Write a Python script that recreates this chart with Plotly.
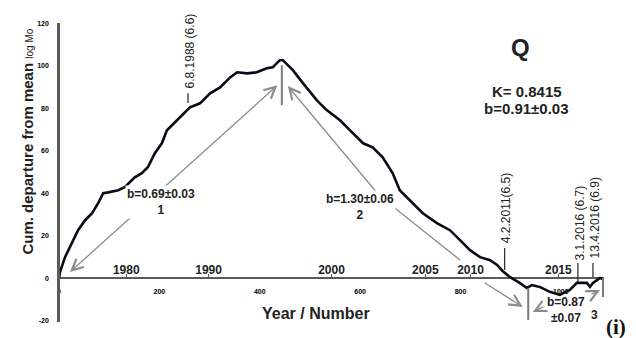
import plotly.graph_objects as go

# ---------------- data ----------------
x_number = [0, 2, 12, 26, 38, 52, 66, 78, 88, 98,
            118, 131, 151, 165, 177, 191, 205, 215, 235, 247,
            261, 281, 301, 321, 341, 355, 375, 394, 414, 426,
            440, 446, 466, 486, 514, 534, 560, 580, 606, 625,
            645, 665, 679, 705, 725, 753, 779, 799, 819, 839,
            859, 873, 884, 898, 918, 932, 942, 958, 978, 998,
            1018, 1032, 1052, 1058, 1064, 1072, 1078, 1084]
y_cum = [0.2, 3.0, 10.0, 16.6, 22.7, 27.4, 30.7, 35.4, 40.1, 40.5,
         41.5, 42.9, 47.6, 49.5, 52.3, 58.9, 63.6, 69.7, 74.4, 77.7,
         80.5, 82.4, 87.1, 89.9, 94.6, 97.0, 96.5, 97.0, 98.9, 99.4,
         102.7, 102.7, 98.0, 91.9, 83.8, 79.1, 74.4, 69.7, 63.6, 61.7,
         57.0, 49.5, 41.5, 35.4, 30.7, 26.0, 22.7, 18.0, 13.3, 10.0,
         8.6, 6.3, 3.5, 0.7, -2.1, -4.5, -3.1, -4.0, -6.3, -7.7,
         -5.4, -2.1, -2.1, -4.0, -2.1, -0.8, 0.2, -0.3]

y_ticks = [-20, 0, 20, 40, 60, 80, 100, 120]
x_ticks = [0, 200, 400, 600, 800, 1000]
year_labels = ["1980", "1990", "2000", "2005", "2010", "2015"]
year_pos = [134, 298, 543, 730, 820, 995]

event_labels = ["6.8.1988 (6.6)", "4.2.2011(6.5)", "3.1.2016 (6.7)", "13.4.2016 (6.9)"]
event_x = [257, 888, 1034, 1064]
event_y0 = [82.5, 4.0, -1.7, 0.7]
event_y1 = [87.2, 14.3, 7.3, 7.3]

seg_labels = ["b=0.69±0.03", "b=1.30±0.06", "b=0.87"]
seg_numbers = ["1", "2", "3"]
bracket_x = [444, 935, 1084]
bracket_y0 = [100.3, -4.5, 0.2]
bracket_y1 = [81.5, -19.5, -8.7]

FONT = "Liberation Sans, Arial, sans-serif"
DARK = "#222222"
GREY = "#8c8c8c"

fig = go.Figure()

# event marker ticks
ex, ey = [], []
for x, a, b in zip(event_x, event_y0, event_y1):
    ex += [x, x, None]
    ey += [a, b, None]
fig.add_trace(go.Scatter(x=ex, y=ey, mode="lines",
                         line=dict(color="#333333", width=1.3),
                         showlegend=False, hoverinfo="skip"))

# bracket lines at segment limits (attached to year axis so it renders)
bx, by = [], []
for x, a, b in zip(bracket_x, bracket_y0, bracket_y1):
    bx += [x, x, None]
    by += [a, b, None]
fig.add_trace(go.Scatter(x=bx, y=by, mode="lines", xaxis="x2",
                         line=dict(color="#7a7a7a", width=2),
                         showlegend=False, hoverinfo="skip"))

# main curve
fig.add_trace(go.Scatter(x=x_number, y=y_cum, mode="lines",
                         line=dict(color="#0a0a16", width=2.6),
                         showlegend=False, hoverinfo="skip"))

XR = [-2, 1086]
YR = [-20.5, 120.2]
pos0 = (0 - YR[0]) / (YR[1] - YR[0])

fig.update_layout(
    width=636, height=338,
    margin=dict(l=58, r=32, t=23, b=16, autoexpand=False),
    paper_bgcolor="white", plot_bgcolor="white",
    font=dict(family=FONT, color=DARK),
    xaxis=dict(range=XR, anchor="free", position=pos0,
               showline=True, linecolor="#5a5a5a", linewidth=2,
               tickvals=x_ticks, ticktext=[str(v) for v in x_ticks],
               tickfont=dict(size=7, color="#000000", weight="bold"),
               ticks="", ticklabelstandoff=6, automargin=False,
               showgrid=False, zeroline=False, layer="below traces"),
    xaxis2=dict(range=XR, overlaying="x", anchor="free", position=pos0,
                side="top", showline=False, automargin=False,
                tickvals=year_pos, ticktext=year_labels,
                tickfont=dict(size=12, color=DARK, weight="bold"),
                ticks="outside", ticklen=4, tickcolor="#555555", tickwidth=1,
                ticklabelstandoff=-4,
                showgrid=False, zeroline=False),
    yaxis=dict(range=YR, anchor="free", position=0, automargin=False,
               showline=True, linecolor="#5a5a5a", linewidth=2.5,
               tickvals=y_ticks, ticktext=[str(v) for v in y_ticks],
               tickfont=dict(size=7, color="#000000", weight="bold"),
               ticks="", ticklabelstandoff=7,
               showgrid=False, zeroline=False),
)

ann = []


def arrow(x, y, ax, ay, side="end"):
    return dict(x=x, y=y, ax=ax, ay=ay, xref="x", yref="y", axref="x", ayref="y",
                text="", showarrow=True, arrowhead=5, startarrowhead=5,
                arrowside=side, arrowsize=1.7, startarrowsize=1.7,
                arrowwidth=1.3, arrowcolor=GREY, standoff=0, startstandoff=0)


ann.append(arrow(21.9, 3.0, 438, 91.5, side="end+start"))
ann.append(arrow(456, 90.5, 639, 38.8))
ann.append(arrow(799, 8.7, 639, 38.8, side="none"))
ann.append(arrow(924, -13.4, 845, -1.6))
ann.append(arrow(944, -15.8, 968, -13.0))
ann.append(arrow(1078, -5.5, 1058, -7.8))

lab = dict(xref="x", yref="y", showarrow=False, font=dict(size=12, color=DARK))
ann.append(dict(lab, x=203, y=36.0, text=f"<b>{seg_labels[0]}</b><br><b>{seg_numbers[0]}</b>",
                bgcolor="white"))
ann.append(dict(lab, x=600, y=33.6, text=f"<b>{seg_labels[1]}</b><br><b>{seg_numbers[1]}</b>",
                bgcolor="white"))
ann.append(dict(lab, x=1010, y=-14.8, text=f"<b>{seg_labels[2]}</b><br><b>±0.07</b>"))
ann.append(dict(lab, x=1068, y=-17.0, text=f"<b>{seg_numbers[2]}</b>"))

# event labels (rotated)
ev_text_x = [261, 890, 1038, 1068]
ev_text_y = [88.7, 15.7, 7.7, 8.7]
for t, x, y in zip(event_labels, ev_text_x, ev_text_y):
    ann.append(dict(x=x, y=y, xref="x", yref="y", text=t, textangle=-90,
                    showarrow=False, xanchor="center", yanchor="bottom",
                    font=dict(size=12, color=DARK)))

# panel texts
ann.append(dict(x=920, y=108.9, xref="x", yref="y", text="<b>Q</b>", showarrow=False,
                font=dict(size=24, color=DARK)))
ann.append(dict(x=932, y=88.0, xref="x", yref="y", text="<b>K= 0.8415</b>", showarrow=False,
                font=dict(size=15, color=DARK)))
ann.append(dict(x=932, y=80.0, xref="x", yref="y", text="<b>b=0.91±0.03</b>", showarrow=False,
                font=dict(size=15, color=DARK)))
ann.append(dict(x=(616 - 58) / 546, y=(322 - 327) / 299, xref="paper", yref="paper",
                xanchor="center", yanchor="middle",
                text="<b>(i)</b>", showarrow=False,
                font=dict(size=21, color="#111111", family="Liberation Serif, Times New Roman, serif")))

# axis titles
ann.append(dict(x=513, y=-16.5, xref="x", yref="y", text="<b>Year / Number</b>", showarrow=False,
                font=dict(size=16, color=DARK)))
ann.append(dict(x=(17.5 - 58) / 546, y=64.4, xref="paper", yref="y", textangle=-90,
                text="<b>Cum. departure from mean</b> <span style='font-size:10px'>log Mo</span>",
                showarrow=False, font=dict(size=15, color=DARK)))

fig.update_layout(annotations=ann)
fig.write_html("out.html", config={"displayModeBar": False},
               post_script="document.body.style.margin='0';document.body.style.overflow='hidden';")
